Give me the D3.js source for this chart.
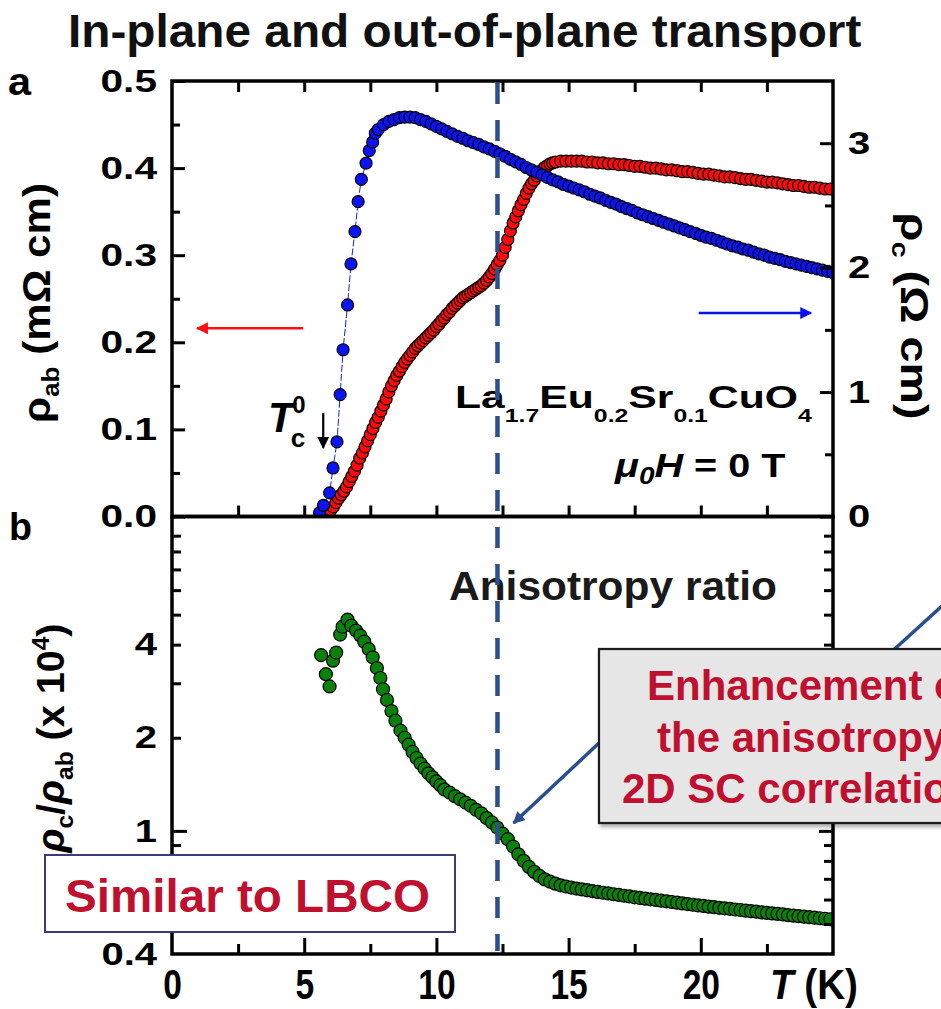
<!DOCTYPE html>
<html><head><meta charset="utf-8">
<script src="https://cdn.jsdelivr.net/npm/d3@7"></script>
<style>
body{margin:0;background:#fff;}
svg{display:block;font-family:"Liberation Sans",Arial,Helvetica,sans-serif;}
</style>
</head><body>
<svg id="c" width="941" height="1009"></svg>
<script>
// ---------------- DATA ----------------
// Panel a, in-plane resistivity rho_ab (mOhm cm), left axis
const tRed = [5.9,6.0,6.1,6.2,6.3,6.4,6.5,6.6,6.7,6.8,
6.9,7.0,7.1,7.2,7.3,7.4,7.5,7.6,7.7,7.8,
7.9,8.0,8.1,8.2,8.3,8.4,8.5,8.6,8.7,8.8,
8.9,9.0,9.1,9.2,9.3,9.4,9.5,9.6,9.7,9.8,
9.9,10.0,10.1,10.2,10.3,10.4,10.5,10.6,10.7,10.8,
10.9,11.0,11.1,11.2,11.3,11.4,11.5,11.6,11.7,11.8,
11.9,12.0,12.1,12.2,12.3,12.4,12.5,12.6,12.7,12.8,
12.9,13.0,13.1,13.2,13.3,13.4,13.5,13.6,13.7,13.8,
13.9,14.0,14.1,14.2,14.3,14.4,14.5,
14.7,14.9,15.1,15.3,15.5,15.7,15.9,16.1,16.3,16.5,
16.7,16.9,17.1,17.3,17.5,17.7,17.9,18.1,18.3,18.5,
18.7,18.9,19.1,19.3,19.5,19.7,19.9,20.1,20.3,20.5,
20.7,20.9,21.1,21.3,21.5,21.7,21.9,22.1,22.3,22.5,
22.7,22.9,23.1,23.3,23.5,23.7,23.9,24.1,24.3,24.5,
24.7,24.9];
const rhoAB = [0.003,0.007,0.011,0.016,0.021,0.025,0.029,0.034,0.040,0.046,
0.052,0.059,0.067,0.073,0.080,0.087,0.094,0.101,0.108,0.114,
0.121,0.128,0.135,0.143,0.150,0.156,0.162,0.167,0.172,0.177,
0.181,0.185,0.189,0.193,0.196,0.199,0.202,0.205,0.208,0.211,
0.214,0.218,0.221,0.225,0.228,0.232,0.235,0.239,0.242,0.245,
0.248,0.251,0.253,0.255,0.257,0.259,0.261,0.263,0.265,0.268,
0.271,0.275,0.279,0.284,0.289,0.294,0.300,0.309,0.318,0.328,
0.337,0.344,0.351,0.358,0.364,0.371,0.377,0.382,0.386,0.391,
0.395,0.398,0.401,0.403,0.405,0.406,0.407,
0.408,0.408,0.408,0.408,0.408,0.407,0.407,0.406,0.406,0.405,
0.405,0.404,0.404,0.403,0.402,0.402,0.401,0.400,0.400,0.399,
0.398,0.398,0.397,0.396,0.396,0.395,0.394,0.393,0.393,0.392,
0.391,0.390,0.390,0.389,0.388,0.387,0.387,0.386,0.385,0.384,
0.384,0.383,0.382,0.381,0.380,0.380,0.379,0.378,0.378,0.377,
0.376,0.376];

// Panel a, out-of-plane resistivity rho_c (Ohm cm), right axis
const tBlue = [5.58,5.73,5.96,6.09,6.24,6.36,6.47,6.64,6.77,6.92,7.04,7.16,7.34,7.46,7.59,7.69,
7.8,8.0,8.2,8.4,8.6,8.8,9.0,9.2,9.4,9.6,
9.8,10.0,10.2,10.4,10.6,10.8,11.0,11.2,11.4,11.6,
11.8,12.0,12.2,12.4,12.6,12.8,13.0,13.2,13.4,13.6,
13.8,14.0,14.2,14.4,14.6,14.8,15.0,15.2,15.4,15.6,
15.8,16.0,16.2,16.4,16.6,16.8,17.0,17.2,17.4,17.6,
17.8,18.0,18.2,18.4,18.6,18.8,19.0,19.2,19.4,19.6,
19.8,20.0,20.2,20.4,20.6,20.8,21.0,21.2,21.4,21.6,
21.8,22.0,22.2,22.4,22.6,22.8,23.0,23.2,23.4,23.6,
23.8,24.0,24.2,24.4,24.6,24.8,25.0];
const rhoC = [0.03,0.09,0.19,0.39,0.60,0.98,1.34,1.70,2.03,2.29,2.53,2.71,2.84,2.94,3.01,3.08,
3.11,3.15,3.175,3.19,3.205,3.21,3.21,3.205,3.19,3.175,
3.155,3.135,3.115,3.095,3.075,3.055,3.04,3.02,3.005,2.99,
2.97,2.955,2.935,2.915,2.895,2.87,2.85,2.83,2.805,2.785,
2.765,2.745,2.725,2.705,2.69,2.67,2.655,2.64,2.625,2.61,
2.59,2.575,2.56,2.54,2.525,2.51,2.49,2.475,2.46,2.44,
2.425,2.41,2.395,2.38,2.365,2.35,2.335,2.32,2.305,2.29,
2.275,2.26,2.245,2.235,2.22,2.205,2.19,2.175,2.165,2.15,
2.14,2.125,2.11,2.10,2.085,2.075,2.065,2.05,2.04,2.03,
2.02,2.01,2.0,1.99,1.98,1.97,1.96];

// Panel b, anisotropy ratio rho_c/rho_ab (x 10^4)
const tGreen = [5.64,5.82,5.96,6.09,6.21,6.36,6.45,6.64,6.78,6.96,
7.12,7.27,7.44,7.59,7.75,7.88,7.98,8.13,8.30,8.45,
8.64,8.80,8.95,9.10,9.25,9.40,9.55,9.70,9.85,10.0,10.15,10.3,
10.5,10.7,10.9,11.1,11.3,11.5,11.7,11.9,12.1,12.3,
12.5,12.7,12.9,13.1,13.3,13.5,13.7,13.9,14.1,14.3,
14.5,14.7,14.9,15.1,15.3,15.5,15.7,15.9,16.1,16.3,
16.5,16.7,16.9,17.1,17.3,17.5,17.7,17.9,18.1,18.3,
18.5,18.7,18.9,19.1,19.3,19.5,19.7,19.9,20.1,20.3,
20.5,20.7,20.9,21.1,21.3,21.5,21.7,21.9,22.1,22.3,
22.5,22.7,22.9,23.1,23.3,23.5,23.7,23.9,24.1,24.3,
24.5,24.7,24.9];
const ratio = [3.70,3.21,2.93,3.55,3.77,4.31,4.57,4.82,4.61,4.44,
4.28,4.09,3.87,3.64,3.36,3.12,2.87,2.65,2.44,2.27,
2.11,2.0,1.90,1.80,1.72,1.65,1.59,1.535,1.49,1.445,1.405,1.36,
1.33,1.295,1.265,1.235,1.205,1.17,1.14,1.10,1.065,1.025,
0.98,0.94,0.89,0.84,0.80,0.765,0.737,0.715,0.697,0.685,
0.675,0.667,0.661,0.656,0.651,0.647,0.643,0.639,0.635,0.631,
0.628,0.624,0.621,0.617,0.614,0.610,0.607,0.604,0.601,0.598,
0.595,0.592,0.589,0.586,0.583,0.580,0.577,0.574,0.572,0.569,
0.567,0.564,0.562,0.560,0.557,0.555,0.552,0.550,0.548,0.545,
0.543,0.541,0.539,0.537,0.534,0.532,0.530,0.528,0.526,0.524,
0.522,0.520,0.518];

// Ticks
const xMajor = [5,10,15,20];
const xMinor = [2.5,7.5,12.5,17.5,22.5];
const xLabels = [0,5,10,15,20];
const abMajor = [0,0.1,0.2,0.3,0.4,0.5];
const abMinor = [0.05,0.15,0.25,0.35,0.45];
const cMajor = [0,1,2,3];
const cMinor = [0.5,1.5,2.5];
const rLabels = [0.4,1,2,4];
const rLong = [1];
const rShort = [0.5,0.6,0.7,0.8,0.9,2,3,4,5,6,7,8,9];
const tDashed = 12.31;

// ---------------- CHART ----------------
const svg = d3.select("#c");
const X0=172, X1=833, YT=81, YM=516.5, YB=954;
const x = d3.scaleLinear().domain([0,25]).range([X0,X1]);
const yAB = d3.scaleLinear().domain([0,0.5]).range([YM,YT]);
const yC = d3.scaleLinear().domain([0,3.5]).range([YM,YT]);
const yR = d3.scaleLog().domain([0.4,10.38]).range([YB,YM]);

const defs = svg.append("defs");
defs.append("clipPath").attr("id","clipA").append("rect").attr("x",X0).attr("y",YT).attr("width",X1-X0).attr("height",YM-YT);
defs.append("clipPath").attr("id","clipB").append("rect").attr("x",X0).attr("y",YM).attr("width",X1-X0).attr("height",YB-YM);
const sh = defs.append("filter").attr("id","shadow").attr("x","-10%").attr("y","-10%").attr("width","130%").attr("height","130%");
sh.append("feGaussianBlur").attr("in","SourceAlpha").attr("stdDeviation",2);
sh.append("feOffset").attr("dx",2).attr("dy",3).attr("result","ob");
sh.append("feComponentTransfer").append("feFuncA").attr("type","linear").attr("slope",0.35);
const fm = sh.append("feMerge"); fm.append("feMergeNode"); fm.append("feMergeNode").attr("in","SourceGraphic");

function mk(id, color){
  defs.append("marker").attr("id",id).attr("viewBox","0 0 10 10").attr("refX",9).attr("refY",5)
    .attr("markerUnits","userSpaceOnUse").attr("markerWidth",16).attr("markerHeight",12).attr("orient","auto")
    .append("path").attr("d","M0,0 L10,5 L0,10 Z").attr("fill",color);
}
mk("arRed","#ff1010"); mk("arBlue","#0a10f0"); mk("arBlack","#000"); mk("arNavy","#2b4e8e");

// data points
const red = tRed.map((t,i)=>({t, v:rhoAB[i]})).filter(d=>d.v!==undefined);
const blue = tBlue.map((t,i)=>({t, v:rhoC[i]})).filter(d=>d.v!==undefined);
const green = tGreen.map((t,i)=>({t, v:ratio[i]})).filter(d=>d.v!==undefined);

const gA = svg.append("g").attr("clip-path","url(#clipA)");
gA.selectAll("circle.r").data(red).join("circle").attr("class","r")
  .attr("cx",d=>x(d.t)).attr("cy",d=>yAB(d.v)).attr("r",6)
  .attr("fill","#ff0a0a").attr("stroke","#000").attr("stroke-width",1.2);
gA.append("path").datum(blue).attr("d",d3.line().x(d=>x(d.t)).y(d=>yC(d.v)))
  .attr("fill","none").attr("stroke","#1020ff").attr("stroke-width",1).attr("stroke-dasharray","7,2");
gA.selectAll("circle.b").data(blue).join("circle").attr("class","b")
  .attr("cx",d=>x(d.t)).attr("cy",d=>yC(d.v)).attr("r",6)
  .attr("fill","#0a14f5").attr("stroke","#000").attr("stroke-width",1.2);

const gB = svg.append("g").attr("clip-path","url(#clipB)");
gB.selectAll("circle.g").data(green).join("circle").attr("class","g")
  .attr("cx",d=>x(d.t)).attr("cy",d=>yR(d.v)).attr("r",6.5)
  .attr("fill","#0a820a").attr("stroke","#000").attr("stroke-width",1.2);

// ticks
function ticks(axisFn, scale, vals, size, tx, ty){
  const g = svg.append("g").attr("transform",`translate(${tx},${ty})`)
    .call(axisFn(scale).tickValues(vals).tickSize(size).tickFormat(""));
  g.select(".domain").remove();
  g.selectAll("text").remove();
  g.selectAll(".tick line").attr("stroke","#000").attr("stroke-width",3);
}
ticks(d3.axisBottom, x, xMajor.concat(xMinor), 11, 0, YT);
ticks(d3.axisTop, x, xMajor.concat(xMinor), 11, 0, YM);
ticks(d3.axisTop, x, xMajor, 16, 0, YB);
ticks(d3.axisTop, x, xMinor, 10, 0, YB);
ticks(d3.axisRight, yAB, abMajor, 13, X0, 0);
ticks(d3.axisRight, yAB, abMinor, 8, X0, 0);
ticks(d3.axisLeft, yC, cMajor, 13, X1, 0);
ticks(d3.axisLeft, yC, cMinor, 8, X1, 0);
ticks(d3.axisRight, yR, rLong, 15, X0, 0);
ticks(d3.axisRight, yR, rShort, 9, X0, 0);
ticks(d3.axisLeft, yR, rLong, 14, X1, 0);
ticks(d3.axisLeft, yR, rShort, 9, X1, 0);

// frames
[[YT,YM],[YM,YB]].forEach(([a,b])=>{
  svg.append("rect").attr("x",X0).attr("y",a).attr("width",X1-X0).attr("height",b-a)
    .attr("fill","none").attr("stroke","#000").attr("stroke-width",3.5);
});

// tick labels
function labels(axisFn, scale, vals, fmt, pad, tx, ty, size, sx){
  const g = svg.append("g").attr("transform",`translate(${tx},${ty})`)
    .call(axisFn(scale).tickValues(vals).tickSize(0).tickPadding(pad).tickFormat(fmt));
  g.select(".domain").remove();
  g.selectAll(".tick line").remove();
  g.attr("font-family",null).attr("font-size",null);
  g.selectAll(".tick text").each(function(){
    const t = d3.select(this);
    const xx = +t.attr("x")||0, yy = +t.attr("y")||0;
    t.attr("x",null).attr("y",null)
     .attr("transform",`translate(${xx},${yy}) scale(${sx},1)`)
     .attr("font-size",size).attr("font-weight","bold").attr("fill","#000");
  });
}
labels(d3.axisLeft, yAB, abMajor, d3.format(".1f"), 15, X0, 0, 32, 1.27);
labels(d3.axisRight, yC, cMajor, d3.format("d"), 15, X1, 0, 32, 1.25);
labels(d3.axisLeft, yR, rLabels, d=>String(d), 15, X0, 0, 32, 1.25);
labels(d3.axisBottom, x, xLabels, d3.format("d"), 14, 0, YB, 43, 0.78);

// generic text helper
function label(o){
  const t = svg.append("text").attr("text-anchor",o.anchor||"start")
    .attr("font-size",o.size).attr("font-weight",o.weight||"bold").attr("fill",o.fill||"#000");
  let shift = 0;
  o.parts.forEach(p=>{
    const s = p.sub ? (o.subShift!==undefined?o.subShift:o.size*0.36) : p.sup ? -(o.supShift!==undefined?o.supShift:o.size*0.42) : 0;
    const ts = t.append("tspan").text(p.t).attr("dy", s-shift);
    shift = s;
    if(p.sub||p.sup) ts.attr("font-size", p.size || o.subSize || o.size*0.62);
    if(p.dx!==undefined) ts.attr("dx", p.dx);
    if(p.it) ts.attr("font-style","italic");
  });
  const bb = t.node().getBBox();
  const sx = o.width ? o.width/bb.width : (o.sx||1);
  t.attr("transform",`translate(${o.x},${o.y}) rotate(${o.rot||0}) scale(${sx},1)`);
  return t;
}

label({x:68,y:47,size:47,width:794,fill:"#111",parts:[{t:"In-plane and out-of-plane transport"}]});
label({x:8,y:95,size:38,width:24,parts:[{t:"a"}]});
label({x:9,y:540,size:38,width:23,parts:[{t:"b"}]});

label({x:50,y:303,anchor:"middle",rot:-90,size:38,width:240,subShift:9,
  parts:[{t:"ρ"},{t:"ab",sub:true},{t:" (mΩ cm)"}]});
label({x:901,y:316,anchor:"middle",rot:90,size:38,width:207,subShift:9,
  parts:[{t:"ρ"},{t:"c",sub:true},{t:" (Ω cm)"}]});
label({x:64,y:738,anchor:"middle",rot:-90,size:38,width:230,subShift:9,supShift:15,
  parts:[{t:"ρ",it:true},{t:"c",sub:true},{t:"/"},{t:"ρ",it:true},{t:"ab",sub:true},{t:" (x 10"},{t:"4",sup:true},{t:")"}]});

label({x:770,y:999,size:43,width:88,parts:[{t:"T",it:true},{t:" (K)"}]});

label({x:455,y:408,size:31,width:357,subShift:14,subSize:18,
  parts:[{t:"La"},{t:"1.7",sub:true},{t:"Eu"},{t:"0.2",sub:true},{t:"Sr"},{t:"0.1",sub:true},{t:"CuO"},{t:"4",sub:true}]});
label({x:615,y:477,size:34,width:172,subShift:7,subSize:24,
  parts:[{t:"μ",it:true},{t:"0",sub:true,it:true},{t:"H",it:true},{t:" = 0 T"}]});
// T_c^0 as one text
label({x:268,y:432,size:42,subShift:15,supShift:19,
  parts:[{t:"T",it:true},{t:"c",sub:true,size:26,dx:-3},{t:"0",sup:true,size:24,dx:-13}]});

label({x:449,y:600,size:41,width:328,fill:"#1a1a1a",parts:[{t:"Anisotropy ratio"}]});

// arrows panel a
svg.append("line").attr("x1",x(4.96)).attr("x2",x(0.95)).attr("y1",yAB(0.216)).attr("y2",yAB(0.216))
  .attr("stroke","#ff1010").attr("stroke-width",2.5).attr("marker-end","url(#arRed)");
svg.append("line").attr("x1",x(19.92)).attr("x2",x(24.17)).attr("y1",yC(1.635)).attr("y2",yC(1.635))
  .attr("stroke","#0a10f0").attr("stroke-width",2.5).attr("marker-end","url(#arBlue)");
svg.append("line").attr("x1",x(5.72)).attr("x2",x(5.72)).attr("y1",yAB(0.1186)).attr("y2",yAB(0.0790))
  .attr("stroke","#000").attr("stroke-width",2.2).attr("marker-end","url(#arBlack)");

// dashed line
svg.append("line").attr("x1",x(tDashed)).attr("x2",x(tDashed)).attr("y1",YT+2).attr("y2",YB-3)
  .attr("stroke","#2c4f8d").attr("stroke-width",4.5).attr("stroke-dasharray","21,16");

// annotation arrows panel b
svg.append("line").attr("x1",x(16.17)).attr("y1",yR(1.93)).attr("x2",x(12.92)).attr("y2",yR(1.06))
  .attr("stroke","#2b4e8e").attr("stroke-width",3.5).attr("marker-end","url(#arNavy)");
svg.append("line").attr("x1",x(27.3)).attr("y1",yR(3.85)).attr("x2",x(29.4)).attr("y2",yR(5.6))
  .attr("stroke","#2b4e8e").attr("stroke-width",3.5);

// boxes
svg.append("rect").attr("x",599).attr("y",649).attr("width",380).attr("height",174)
  .attr("fill","#e6e6e6").attr("stroke","#1a1a1a").attr("stroke-width",2.2).attr("filter","url(#shadow)");
label({x:647,y:700,size:42,fill:"#c0102f",parts:[{t:"Enhancement of"}]});
label({x:657,y:752,size:42,fill:"#c0102f",parts:[{t:"the anisotropy by"}]});
label({x:622,y:803,size:42,fill:"#c0102f",parts:[{t:"2D SC correlations"}]});

svg.append("rect").attr("x",45).attr("y",855).attr("width",410).attr("height",77)
  .attr("fill","#fff").attr("stroke","#3b3b7b").attr("stroke-width",2);
label({x:65,y:912,size:46,width:365,fill:"#c0102f",parts:[{t:"Similar to LBCO"}]});
</script>
</body></html>
